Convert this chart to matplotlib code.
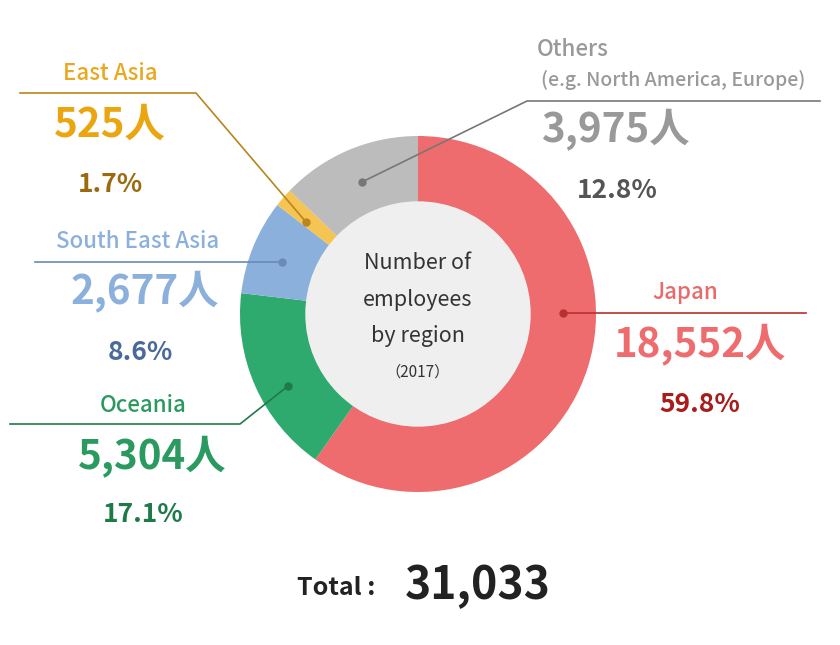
import matplotlib
matplotlib.use("Agg")
import matplotlib.pyplot as plt

regions = ["Japan", "Oceania", "South East Asia", "East Asia", "Others"]
counts = [18552, 5304, 2677, 525, 3975]
shares = ["59.8%", "17.1%", "8.6%", "1.7%", "12.8%"]
count_labels = ["18,552人", "5,304人", "2,677人", "525人", "3,975人"]
total_label = "31,033"
colors = ["#ee6b6e", "#2eaa6e", "#8cb0dc", "#f5c452", "#bcbcbc"]

plt.rcParams["font.family"] = ["Noto Sans CJK JP", "DejaVu Sans"]
fig = plt.figure(figsize=(8.4, 6.45), dpi=100)
ax = fig.add_axes([0, 0, 1, 1])
CX, CY = 418, 314
ax.pie(counts, colors=colors, center=(CX, CY), radius=178, startangle=-90,
       counterclock=True, wedgeprops=dict(width=66, linewidth=0))
ax.add_patch(plt.Circle((CX, CY), 112, color="#efefef", zorder=3))
ax.set_xlim(0, 840); ax.set_ylim(645, 0); ax.set_aspect("equal"); ax.axis("off")

def T(x, y, s, size, color, w="bold"):
    ax.text(x, y, s, ha="center", va="center", fontsize=size, color=color,
            fontweight=w, zorder=5)

def leader(xs, ys, color):
    ax.plot(xs, ys, color=color, lw=1.2, zorder=4)
    ax.plot(xs[-1], ys[-1], "o", color=color, ms=5, zorder=4)

# Japan
T(685, 293, regions[0], 16, "#e96a6a", "medium")
T(700, 345, count_labels[0], 29, "#ee6b6e")
T(700, 405, shares[0], 19, "#a81c1c")
leader([806, 563], [313, 313], "#b83030")
# Oceania
T(143, 406, regions[1], 16, "#2a9a60", "medium")
T(152, 457, count_labels[1], 29, "#2a9a60")
T(143, 515, shares[1], 19, "#1f7a4a")
leader([10, 240, 288], [424, 424, 386], "#1f7a4a")
# South East Asia
T(138, 242, regions[2], 16, "#8cb0dc", "medium")
T(145, 292, count_labels[2], 29, "#8cb0dc")
T(140, 352, shares[2], 19, "#4a6a9a")
leader([35, 282], [262, 262], "#6a8ab8")
# East Asia
T(110, 73, regions[3], 16, "#e8a820", "medium")
T(110, 125, count_labels[3], 29, "#eaa50f")
T(110, 185, shares[3], 19, "#9b6a10")
leader([20, 196, 306], [93, 93, 222], "#b8861a")
# Others
T(573, 50, regions[4], 16, "#999999", "medium")
T(673, 80, "(e.g. North America, Europe)", 14, "#999999", "medium")
T(615, 130, count_labels[4], 29, "#999999")
T(617, 190, shares[4], 19, "#555555")
leader([820, 527, 362], [101, 101, 182], "#777777")

# centre
for y, s in zip([263, 300, 336], ["Number of", "employees", "by region"]):
    T(CX, y, s, 15.5, "#333333", "normal")
T(CX, 372, "（2017）", 11, "#333333", "normal")

T(336, 588, "Total :", 18, "#222222")
T(478, 586, total_label, 32, "#222222")

fig.savefig("out.png", facecolor="white")
